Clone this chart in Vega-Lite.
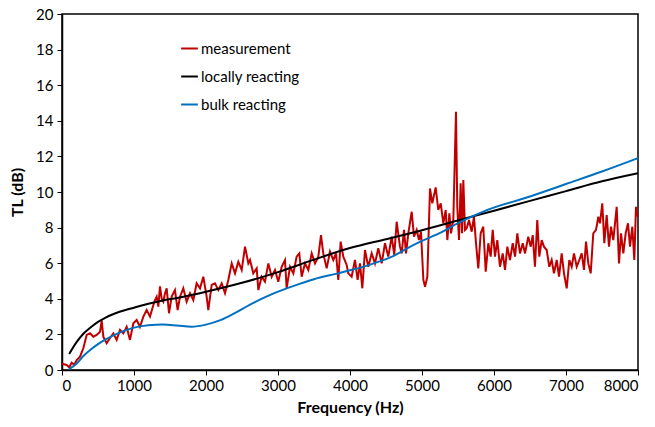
{
  "$schema": "https://vega.github.io/schema/vega-lite/v6.json",
  "width": 576,
  "height": 356,
  "autosize": {"type": "none"},
  "padding": {"left": 62, "top": 14, "right": 17, "bottom": 57},
  "background": "white",
  "config": {
    "font": "Lato",
    "view": {"stroke": "#000000", "strokeWidth": 1.5},
    "axis": {"grid": false, "domainColor": "#000000", "domainWidth": 1.5, "tickColor": "#000000", "tickSize": 5, "labelColor": "#000000", "labelFontSize": 15, "titleColor": "#000000", "titleFontSize": 16, "titleFontWeight": "bold", "labelFont": "Lato", "titleFont": "Lato"}
  },
  "datasets": {
    "meas": [
      {"f":0,"tl":0.35},{"f":65,"tl":0.28},{"f":100,"tl":0.15},{"f":134,"tl":0.41},{"f":170,"tl":0.3},{"f":204,"tl":0.56},{"f":250,"tl":0.75},{"f":296,"tl":1.22},{"f":343,"tl":1.97},{"f":389,"tl":2.06},{"f":435,"tl":1.87},{"f":481,"tl":1.97},{"f":528,"tl":2.15},{"f":551,"tl":2.77},{"f":574,"tl":1.87},{"f":620,"tl":1.5},{"f":667,"tl":1.8},{"f":713,"tl":2.06},{"f":759,"tl":1.69},{"f":806,"tl":2.25},{"f":852,"tl":2.06},{"f":898,"tl":2.43},{"f":944,"tl":1.69},{"f":991,"tl":2.62},{"f":1037,"tl":2.81},{"f":1083,"tl":2.43},{"f":1130,"tl":3.0},{"f":1176,"tl":3.37},{"f":1222,"tl":3.0},{"f":1269,"tl":3.65},{"f":1292,"tl":3.93},{"f":1315,"tl":4.12},{"f":1338,"tl":3.56},{"f":1361,"tl":4.7},{"f":1385,"tl":4.0},{"f":1407,"tl":3.84},{"f":1430,"tl":4.3},{"f":1454,"tl":4.59},{"f":1486,"tl":3.19},{"f":1523,"tl":4.12},{"f":1569,"tl":4.49},{"f":1606,"tl":3.37},{"f":1639,"tl":4.12},{"f":1685,"tl":4.59},{"f":1731,"tl":3.84},{"f":1778,"tl":4.31},{"f":1824,"tl":3.93},{"f":1870,"tl":4.87},{"f":1917,"tl":4.59},{"f":1963,"tl":5.24},{"f":2009,"tl":4.12},{"f":2032,"tl":3.37},{"f":2079,"tl":4.78},{"f":2125,"tl":4.87},{"f":2171,"tl":4.49},{"f":2218,"tl":4.87},{"f":2264,"tl":4.31},{"f":2310,"tl":5.06},{"f":2357,"tl":5.99},{"f":2403,"tl":5.43},{"f":2449,"tl":6.08},{"f":2496,"tl":5.62},{"f":2542,"tl":6.93},{"f":2588,"tl":5.99},{"f":2611,"tl":6.18},{"f":2657,"tl":5.43},{"f":2704,"tl":5.71},{"f":2727,"tl":4.49},{"f":2773,"tl":5.24},{"f":2819,"tl":4.96},{"f":2866,"tl":5.99},{"f":2912,"tl":5.24},{"f":2958,"tl":5.62},{"f":3004,"tl":4.96},{"f":3051,"tl":5.8},{"f":3097,"tl":6.18},{"f":3120,"tl":4.59},{"f":3167,"tl":5.8},{"f":3213,"tl":5.43},{"f":3259,"tl":6.37},{"f":3296,"tl":6.55},{"f":3329,"tl":5.24},{"f":3375,"tl":5.99},{"f":3421,"tl":5.62},{"f":3468,"tl":6.55},{"f":3514,"tl":5.99},{"f":3560,"tl":6.37},{"f":3597,"tl":7.58},{"f":3629,"tl":6.55},{"f":3676,"tl":5.71},{"f":3722,"tl":6.65},{"f":3768,"tl":6.18},{"f":3806,"tl":6.55},{"f":3838,"tl":5.06},{"f":3870,"tl":7.21},{"f":3907,"tl":6.37},{"f":3954,"tl":5.9},{"f":3976,"tl":5.43},{"f":4023,"tl":5.24},{"f":4069,"tl":6.18},{"f":4106,"tl":5.06},{"f":4139,"tl":5.99},{"f":4171,"tl":4.59},{"f":4208,"tl":6.74},{"f":4254,"tl":5.8},{"f":4301,"tl":6.55},{"f":4347,"tl":5.99},{"f":4393,"tl":6.84},{"f":4440,"tl":5.99},{"f":4486,"tl":7.12},{"f":4532,"tl":6.37},{"f":4579,"tl":7.49},{"f":4615,"tl":6.46},{"f":4648,"tl":8.33},{"f":4694,"tl":6.93},{"f":4718,"tl":6.55},{"f":4750,"tl":7.87},{"f":4778,"tl":6.55},{"f":4810,"tl":7.68},{"f":4857,"tl":8.89},{"f":4889,"tl":7.49},{"f":4926,"tl":7.87},{"f":4958,"tl":7.3},{"f":4986,"tl":7.77},{"f":5019,"tl":5.06},{"f":5042,"tl":4.68},{"f":5074,"tl":5.24},{"f":5111,"tl":10.2},{"f":5143,"tl":9.36},{"f":5190,"tl":10.26},{"f":5226,"tl":8.99},{"f":5260,"tl":9.36},{"f":5296,"tl":8.24},{"f":5329,"tl":8.99},{"f":5352,"tl":7.3},{"f":5380,"tl":8.8},{"f":5403,"tl":7.68},{"f":5435,"tl":8.43},{"f":5472,"tl":14.51},{"f":5490,"tl":9.17},{"f":5514,"tl":7.3},{"f":5537,"tl":10.49},{"f":5556,"tl":7.68},{"f":5574,"tl":10.67},{"f":5597,"tl":7.87},{"f":5621,"tl":7.96},{"f":5653,"tl":8.43},{"f":5690,"tl":7.77},{"f":5722,"tl":8.61},{"f":5750,"tl":7.12},{"f":5782,"tl":5.71},{"f":5815,"tl":7.68},{"f":5851,"tl":8.05},{"f":5885,"tl":5.52},{"f":5921,"tl":7.12},{"f":5954,"tl":6.37},{"f":5982,"tl":7.87},{"f":6014,"tl":6.37},{"f":6046,"tl":7.3},{"f":6083,"tl":5.8},{"f":6121,"tl":6.55},{"f":6153,"tl":5.62},{"f":6185,"tl":6.93},{"f":6222,"tl":6.18},{"f":6260,"tl":7.12},{"f":6292,"tl":6.37},{"f":6324,"tl":7.68},{"f":6361,"tl":6.55},{"f":6399,"tl":7.12},{"f":6431,"tl":6.55},{"f":6476,"tl":7.49},{"f":6510,"tl":6.93},{"f":6538,"tl":7.58},{"f":6569,"tl":5.8},{"f":6601,"tl":8.43},{"f":6629,"tl":6.37},{"f":6663,"tl":7.3},{"f":6694,"tl":6.93},{"f":6732,"tl":6.74},{"f":6768,"tl":5.8},{"f":6801,"tl":6.18},{"f":6833,"tl":5.43},{"f":6871,"tl":6.18},{"f":6903,"tl":5.24},{"f":6940,"tl":6.55},{"f":6972,"tl":5.43},{"f":7010,"tl":4.59},{"f":7046,"tl":6.18},{"f":7079,"tl":5.8},{"f":7111,"tl":6.55},{"f":7149,"tl":5.8},{"f":7185,"tl":6.18},{"f":7218,"tl":6.55},{"f":7250,"tl":5.62},{"f":7278,"tl":7.21},{"f":7310,"tl":5.99},{"f":7343,"tl":5.43},{"f":7379,"tl":7.68},{"f":7417,"tl":7.87},{"f":7449,"tl":8.61},{"f":7472,"tl":8.24},{"f":7504,"tl":9.36},{"f":7532,"tl":7.12},{"f":7565,"tl":8.71},{"f":7597,"tl":6.93},{"f":7625,"tl":8.05},{"f":7657,"tl":7.3},{"f":7704,"tl":9.17},{"f":7736,"tl":5.99},{"f":7764,"tl":7.68},{"f":7796,"tl":6.55},{"f":7829,"tl":7.68},{"f":7861,"tl":8.24},{"f":7889,"tl":6.93},{"f":7921,"tl":8.05},{"f":7949,"tl":6.18},{"f":7972,"tl":9.17},{"f":7990,"tl":8.61}
    ],
    "local": [
      {"f":100,"tl":0.9},{"f":200,"tl":1.55},{"f":300,"tl":2.05},{"f":400,"tl":2.4},{"f":500,"tl":2.7},{"f":600,"tl":2.93},{"f":700,"tl":3.12},{"f":800,"tl":3.27},{"f":1000,"tl":3.5},{"f":1200,"tl":3.72},{"f":1400,"tl":3.9},{"f":1600,"tl":4.05},{"f":2000,"tl":4.4},{"f":2500,"tl":4.9},{"f":3000,"tl":5.5},{"f":3500,"tl":6.2},{"f":4000,"tl":6.85},{"f":4500,"tl":7.35},{"f":5000,"tl":7.85},{"f":5500,"tl":8.4},{"f":6000,"tl":8.95},{"f":6500,"tl":9.5},{"f":7000,"tl":10.05},{"f":7500,"tl":10.6},{"f":8000,"tl":11.05}
    ],
    "bulk": [
      {"f":100,"tl":0.05},{"f":200,"tl":0.35},{"f":300,"tl":0.8},{"f":400,"tl":1.15},{"f":500,"tl":1.45},{"f":600,"tl":1.7},{"f":800,"tl":2.1},{"f":1000,"tl":2.38},{"f":1200,"tl":2.52},{"f":1400,"tl":2.55},{"f":1600,"tl":2.5},{"f":1800,"tl":2.43},{"f":2000,"tl":2.55},{"f":2200,"tl":2.8},{"f":2400,"tl":3.2},{"f":2600,"tl":3.65},{"f":2800,"tl":4.05},{"f":3000,"tl":4.4},{"f":3200,"tl":4.7},{"f":3500,"tl":5.1},{"f":3800,"tl":5.4},{"f":4000,"tl":5.6},{"f":4300,"tl":5.95},{"f":4600,"tl":6.4},{"f":4800,"tl":6.85},{"f":5000,"tl":7.25},{"f":5250,"tl":7.7},{"f":5500,"tl":8.25},{"f":5850,"tl":8.9},{"f":6500,"tl":9.75},{"f":7000,"tl":10.45},{"f":7500,"tl":11.15},{"f":8000,"tl":11.9}
    ]
  },
  "encoding": {
    "x": {"field": "f", "type": "quantitative", "scale": {"domain": [0, 8000], "nice": false}, "axis": {"values": [0,1000,2000,3000,4000,5000,6000,7000,8000], "format": "d", "title": "Frequency (Hz)", "titlePadding": 6, "labelPadding": 3}},
    "y": {"field": "tl", "type": "quantitative", "scale": {"domain": [0, 20], "nice": false}, "axis": {"values": [0,2,4,6,8,10,12,14,16,18,20], "format": "d", "title": "TL (dB)", "titlePadding": 10, "labelPadding": 4}}
  },
  "layer": [
    {"data": {"name": "meas"}, "mark": {"type": "line", "strokeWidth": 2, "interpolate": "linear"}, "encoding": {"color": {"datum": "measurement", "type": "nominal", "scale": {"domain": ["measurement", "locally reacting", "bulk reacting"], "range": ["#C00000", "#000000", "#0070C0"]}, "legend": {"title": null, "orient": "none", "legendX": 118, "legendY": 25, "symbolType": "stroke", "symbolStrokeWidth": 2, "symbolSize": 280, "labelFontSize": 15, "labelFont": "Lato", "labelColor": "#000000", "rowPadding": 10, "labelOffset": 2}}}},
    {"data": {"name": "local"}, "mark": {"type": "line", "strokeWidth": 2, "interpolate": "monotone"}, "encoding": {"color": {"datum": "locally reacting", "type": "nominal"}}},
    {"data": {"name": "bulk"}, "mark": {"type": "line", "strokeWidth": 2, "interpolate": "monotone"}, "encoding": {"color": {"datum": "bulk reacting", "type": "nominal"}}}
  ]
}
